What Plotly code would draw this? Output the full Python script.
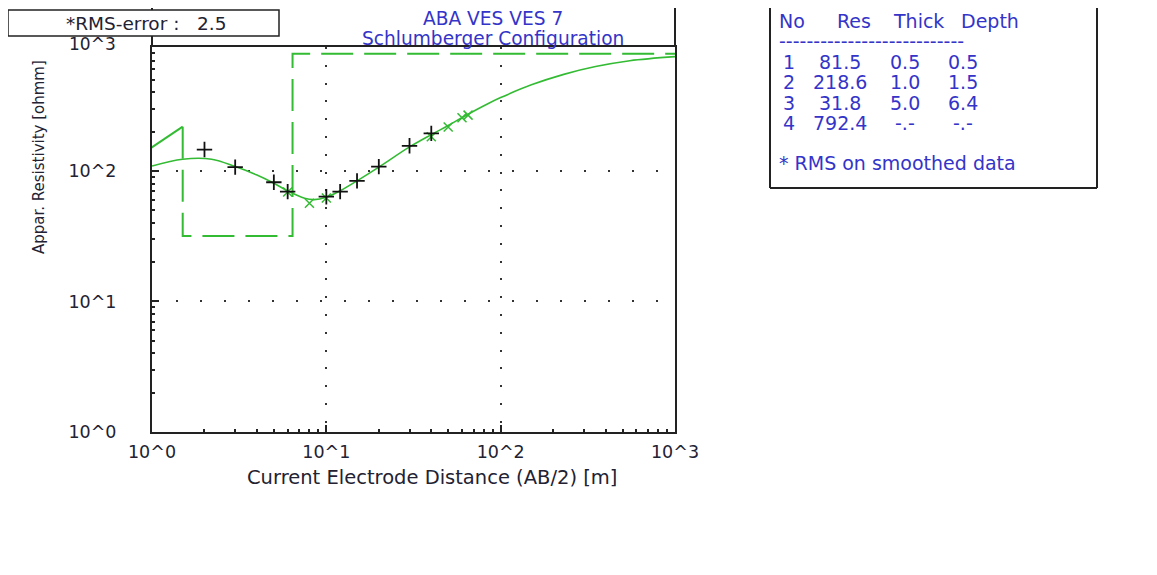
import plotly.graph_objects as go

# ---------------- data ----------------
# observed apparent resistivity (black +)
obs_ab2 = [2, 3, 5, 6, 10, 12, 15, 20, 30, 40]
obs_rho = [146, 107, 82, 69.5, 63.5, 69.5, 84, 108, 156, 194]

# smoothed data (green x)
smo_ab2 = [6, 8, 10, 40, 50, 60, 65]
smo_rho = [69, 56.5, 62, 183, 217, 256, 268]

# computed model response curve
curve_ab2 = [1, 1.5, 2.2, 3, 4, 5, 6, 7.5, 8.5, 10, 12, 15, 20, 30, 40, 50, 62,
             85, 100, 150, 230, 350, 550, 1000]
curve_rho = [109, 123, 123, 108, 93, 80.5, 70.3, 61.8, 60.3, 62.9, 70.5, 84, 107,
             153, 190, 223, 263, 329, 365, 457, 550, 631, 700, 752]

# layered model
layer_no = [1, 2, 3, 4]
layer_res = [81.5, 218.6, 31.8, 792.4]
layer_thick = [0.5, 1.0, 5.0, None]
layer_depth = [0.5, 1.5, 6.4, None]

rms_error = 2.5
title_lines = ["ABA VES VES 7", "Schlumberger Configuration"]
x_tick_vals = [1, 10, 100, 1000]
x_tick_text = ["10^0", "10^1", "10^2", "10^3"]
y_tick_vals = [1, 10, 100]
y_tick_text = ["10^0", "10^1", "10^2"]
y_top_label = "10^3"
x_title = "Current Electrode Distance (AB/2) [m]"
y_title = "Appar. Resistivity [ohmm]"
x_range_log = [0, 3]
y_range_log = [0, 2.95]

# ---------------- layout geometry ----------------
W, H = 1157, 575
OFF = 8                      # page body margin
L, T = 144, 39
PW, PH = 523, 385
R, B = W - L - PW, H - T - PH


def px(xr):
    """screen x (page pixels) -> paper x"""
    return (xr - OFF - L) / PW


def py(yr):
    """screen y (page pixels) -> paper y"""
    return (T + PH - (yr - OFF)) / PH


GREEN = "#33bb33"
DARK = "#222233"
BLUE = "#3434c8"
FONT = "DejaVu Sans"

fig = go.Figure()

# model step line: first segment solid, rest dashed
x_max = 10 ** x_range_log[1]
model_x = [layer_depth[0], layer_depth[1], layer_depth[1], layer_depth[2],
           layer_depth[2], x_max]
model_y = [layer_res[0], layer_res[1], layer_res[2], layer_res[2],
           layer_res[3], layer_res[3]]
fig.add_trace(go.Scatter(x=model_x[:2], y=model_y[:2], mode="lines",
                         line=dict(color=GREEN, width=2), hoverinfo="skip"))
fig.add_trace(go.Scatter(x=model_x[1:], y=model_y[1:], mode="lines",
                         line=dict(color=GREEN, width=2, dash="32px,11px"),
                         hoverinfo="skip"))

# response curve
fig.add_trace(go.Scatter(x=curve_ab2, y=curve_rho, mode="lines",
                         line=dict(color=GREEN, width=1.6, shape="spline")))

# smoothed points
fig.add_trace(go.Scatter(x=smo_ab2, y=smo_rho, mode="markers",
                         marker=dict(symbol="x-thin", size=9,
                                     line=dict(color=GREEN, width=1.5))))
# observed points
fig.add_trace(go.Scatter(x=obs_ab2, y=obs_rho, mode="markers",
                         marker=dict(symbol="cross-thin", size=11,
                                     line=dict(color="#111111", width=1.8))))

minor_x = [m * 10 ** d for d in range(3) for m in range(2, 10)]
minor_y = [m * 10 ** d for d in range(3) for m in range(2, 10)]

fig.update_xaxes(
    type="log", range=x_range_log, tickmode="array", tickvals=x_tick_vals,
    ticktext=x_tick_text, ticks="inside", ticklen=7, tickwidth=1.5,
    tickcolor="#222222", showline=True, linewidth=2, linecolor="#222222",
    mirror=True, showgrid=True, gridcolor="#333333", gridwidth=1.5,
    griddash="2px,15.8px", zeroline=False,
    minor=dict(tickmode="array", tickvals=minor_x, ticks="inside", ticklen=3,
               tickwidth=1.5, tickcolor="#222222", showgrid=False),
    tickfont=dict(family=FONT, size=17.5, color=DARK), ticklabelstandoff=3,
)
fig.update_yaxes(
    type="log", range=y_range_log, tickmode="array", tickvals=y_tick_vals,
    ticktext=y_tick_text, ticks="inside", ticklen=7, tickwidth=1.5,
    tickcolor="#222222", showline=True, linewidth=2, linecolor="#222222",
    mirror=True, showgrid=True, gridcolor="#333333", gridwidth=1.5,
    griddash="2px,22px", zeroline=False,
    minor=dict(tickmode="array", tickvals=minor_y, ticks="inside", ticklen=3,
               tickwidth=1.5, tickcolor="#222222", showgrid=False),
    tickfont=dict(family=FONT, size=17.5, color=DARK), ticklabelstandoff=30,
)

shapes = []
line_style = dict(color="#222222", width=2)
top = py(OFF)
# plot frame side lines extended upward
shapes.append(dict(type="line", xref="paper", yref="paper", x0=0, x1=0,
                   y0=1, y1=top, line=line_style))
shapes.append(dict(type="line", xref="paper", yref="paper", x0=1, x1=1,
                   y0=1, y1=top, line=line_style))
# RMS box
shapes.append(dict(type="rect", xref="paper", yref="paper", x0=px(8), x1=px(279),
                   y0=py(36), y1=py(10), line=dict(color="#222222", width=1.5),
                   fillcolor="white", layer="above"))
# info box (left, bottom, right edges)
shapes.append(dict(type="line", xref="paper", yref="paper", x0=px(770), x1=px(770),
                   y0=py(188), y1=top, line=line_style))
shapes.append(dict(type="line", xref="paper", yref="paper", x0=px(770), x1=px(1097),
                   y0=py(188), y1=py(188), line=line_style))
shapes.append(dict(type="line", xref="paper", yref="paper", x0=px(1097), x1=px(1097),
                   y0=py(188), y1=top, line=line_style))

ann = []
# top y tick label (sits just above the plotted range)
ann.append(dict(text=y_top_label, xref="paper", yref="paper", x=px(118), y=py(44.5),
                xanchor="right", yanchor="middle", showarrow=False,
                font=dict(family=FONT, size=17, color=DARK)))
# axis titles
ann.append(dict(text=x_title, xref="paper", yref="paper", x=px(431.5), y=py(477),
                xanchor="center", yanchor="middle", showarrow=False,
                font=dict(family=FONT, size=19.5, color=DARK)))
ann.append(dict(text=y_title, xref="paper", yref="paper", x=px(39), y=py(157),
                xanchor="center", yanchor="middle", textangle=-90,
                showarrow=False, font=dict(family=FONT, size=15, color=DARK)))
# RMS text
ann.append(dict(text="*RMS-error :\u00a0\u00a0\u00a0" + f"{rms_error}", xref="paper",
                yref="paper", x=px(146), y=py(23.5), xanchor="center",
                yanchor="middle", showarrow=False,
                font=dict(family=FONT, size=18.5, color=DARK)))
# title
for t, yc in zip(title_lines, [19, 38.5]):
    ann.append(dict(text=t, xref="paper", yref="paper", x=px(493),
                    y=py(yc), xanchor="center", yanchor="middle",
                    showarrow=False, font=dict(family=FONT, size=18.6, color=BLUE)))

# info table
tfont = dict(family=FONT, size=19, color=BLUE)
ann.append(dict(text="No", xref="paper", yref="paper", x=px(777), y=py(21),
                xanchor="left", yanchor="middle", showarrow=False, font=tfont))
for txt, cx in [("Res", 853.5), ("Thick", 918), ("Depth", 990)]:
    ann.append(dict(text=txt, xref="paper", yref="paper", x=px(cx), y=py(21),
                    xanchor="center", yanchor="middle", showarrow=False, font=tfont))
ann.append(dict(text="-" * 27, xref="paper", yref="paper", x=px(777), y=py(41),
                xanchor="left", yanchor="middle", showarrow=False, font=tfont))
row_y = [62, 82, 102.5, 123]
for i in range(len(layer_no)):
    cells = [str(layer_no[i]), f"{layer_res[i]:.1f}",
             "-.-" if layer_thick[i] is None else f"{layer_thick[i]:.1f}",
             "-.-" if layer_depth[i] is None else f"{layer_depth[i]:.1f}"]
    for txt, cx in zip(cells, [789, 839.5, 905, 963]):
        ann.append(dict(text=txt, xref="paper", yref="paper", x=px(cx),
                        y=py(row_y[i]), xanchor="center", yanchor="middle",
                        showarrow=False, font=tfont))
ann.append(dict(text="* RMS on smoothed data", xref="paper", yref="paper",
                x=px(777), y=py(163), xanchor="left", yanchor="middle",
                showarrow=False, font=tfont))

fig.update_layout(
    width=W, height=H, margin=dict(l=L, r=R, t=T, b=B, autoexpand=False),
    paper_bgcolor="white", plot_bgcolor="white", showlegend=False,
    shapes=shapes, annotations=ann,
    font=dict(family=FONT, color=DARK),
)

fig.write_html("out.html")
